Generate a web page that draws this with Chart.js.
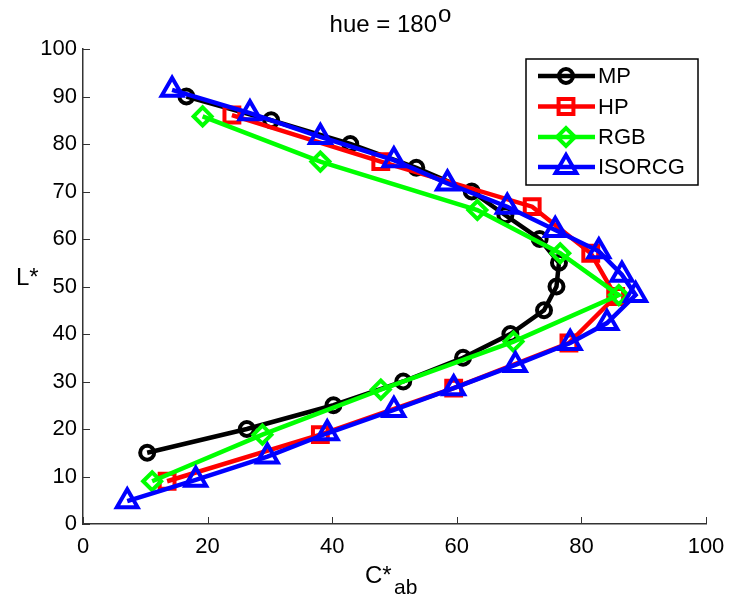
<!DOCTYPE html>
<html>
<head>
<meta charset="utf-8">
<script src="https://cdn.jsdelivr.net/npm/chart.js@4.4.1/dist/chart.umd.min.js"></script>
<style>
  html, body { margin: 0; padding: 0; background: #fff; }
</style>
</head>
<body>
<canvas id="c" width="730" height="596"></canvas>
<script>
// values (C*ab on x, L* on y)
const seriesNames = ['MP', 'HP', 'RGB', 'ISORCG'];

const mpC = [16.6, 30.2, 42.9, 53.5, 62.4, 67.8, 73.3, 76.4, 76.0, 74.0, 68.6, 61.0, 51.4, 40.2, 26.3, 10.3];
const mpL = [90, 85, 80, 75, 70, 65, 60, 55, 50, 45, 40, 35, 30, 25, 20, 15];

const hpC = [23.9, 47.8, 72.1, 81.5, 85.5, 78.0, 59.5, 38.1, 13.5];
const hpL = [86.1, 76.3, 66.8, 57.0, 47.9, 38.1, 28.6, 18.8, 9.0];

const rgbC = [19.2, 38.1, 63.3, 76.6, 86.0, 69.1, 47.8, 28.8, 11.1];
const rgbL = [85.8, 76.3, 66.1, 57.0, 48.2, 38.4, 28.3, 18.8, 9.0];

const isoC = [14.3, 26.8, 38.1, 49.9, 58.5, 68.1, 75.8, 82.8, 86.5, 88.7, 84.1, 78.2, 69.4, 59.5, 49.9, 39.2, 29.6, 18.1, 7.1];
const isoL = [91.4, 86.5, 81.5, 76.6, 71.7, 66.8, 61.9, 57.4, 52.5, 48.2, 42.3, 38.1, 33.5, 28.6, 24.0, 19.1, 14.2, 9.3, 4.8];

const xTicks = [0, 20, 40, 60, 80, 100];
const yTicks = [0, 10, 20, 30, 40, 50, 60, 70, 80, 90, 100];

const FONT = "'Liberation Sans', Arial, sans-serif";

function pts(xs, ys) {
  return xs.map((x, i) => ({ x: x, y: ys[i] }));
}

function series(label, xs, ys, color, style, radius, order) {
  return {
    label: label,
    data: pts(xs, ys),
    showLine: true,
    borderColor: color,
    backgroundColor: color,
    borderWidth: 4.5,
    pointStyle: style,
    pointRadius: radius,
    pointBorderWidth: 4,
    pointHoverBorderWidth: 4,
    pointBorderColor: color,
    pointBackgroundColor: 'rgba(0,0,0,0)',
    order: order
  };
}

// own marker drawing for the legend, same geometry as chart.js point styles
function marker(ctx, style, x, y, r) {
  ctx.beginPath();
  if (style === 'circle') {
    ctx.arc(x, y, r, 0, Math.PI * 2);
  } else if (style === 'rect') {
    const s = Math.SQRT1_2 * r;
    ctx.rect(x - s, y - s, 2 * s, 2 * s);
  } else if (style === 'rectRot') {
    ctx.moveTo(x - r, y); ctx.lineTo(x, y - r); ctx.lineTo(x + r, y); ctx.lineTo(x, y + r);
    ctx.closePath();
  } else if (style === 'triangle') {
    let a = 0;
    ctx.moveTo(x + Math.sin(a) * r, y - Math.cos(a) * r);
    a += Math.PI * 2 / 3;
    ctx.lineTo(x + Math.sin(a) * r, y - Math.cos(a) * r);
    a += Math.PI * 2 / 3;
    ctx.lineTo(x + Math.sin(a) * r, y - Math.cos(a) * r);
    ctx.closePath();
  }
  ctx.stroke();
}

const decor = {
  id: 'decor',
  afterDraw(chart) {
    const ctx = chart.ctx;
    const area = chart.chartArea;
    const xs = chart.scales.x, ys = chart.scales.y;
    ctx.save();

    // inward ticks
    ctx.strokeStyle = '#333';
    ctx.lineWidth = 1;
    xTicks.forEach(v => {
      const px = Math.round(xs.getPixelForValue(v)) + 0.5;
      ctx.beginPath(); ctx.moveTo(px, area.bottom); ctx.lineTo(px, area.bottom - 7); ctx.stroke();
    });
    yTicks.forEach(v => {
      const py = Math.round(ys.getPixelForValue(v)) + 0.5;
      ctx.beginPath(); ctx.moveTo(area.left, py); ctx.lineTo(area.left + 7, py); ctx.stroke();
    });

    // title with superscript
    ctx.fillStyle = '#000';
    ctx.textBaseline = 'alphabetic';
    ctx.textAlign = 'left';
    ctx.font = '24px ' + FONT;
    const main = 'hue = 180';
    const w = ctx.measureText(main).width;
    const s = ctx.measureText('o').width;
    const tx = 390 - (w + s) / 2;
    ctx.fillText(main, tx, 32);
    ctx.fillText('o', tx + w + 1, 22);

    // axis labels
    ctx.font = '24px ' + FONT;
    ctx.fillText('L*', 16, 285);
    ctx.fillText('C*', 365, 583);
    ctx.font = '21px ' + FONT;
    ctx.fillText('ab', 394, 594);

    // legend box
    const bx = 526, by = 59, bw = 172, bh = 126;
    ctx.fillStyle = '#fff';
    ctx.fillRect(bx, by, bw, bh);
    ctx.strokeStyle = '#000';
    ctx.lineWidth = 1.5;
    ctx.strokeRect(bx, by, bw, bh);
    const rowsY = [76, 106.5, 137, 167];
    chart.data.datasets.forEach((ds, i) => {
      const y = rowsY[i];
      ctx.strokeStyle = ds.borderColor;
      ctx.lineWidth = ds.borderWidth;
      ctx.beginPath(); ctx.moveTo(538, y); ctx.lineTo(595, y); ctx.stroke();
      ctx.lineWidth = ds.pointBorderWidth;
      marker(ctx, ds.pointStyle, 566, y, ds.pointRadius);
      ctx.fillStyle = '#000';
      ctx.font = '22px ' + FONT;
      ctx.textBaseline = 'middle';
      ctx.fillText(ds.label, 598, y + 1);
    });
    ctx.restore();
  }
};

new Chart(document.getElementById('c'), {
  type: 'scatter',
  data: {
    datasets: [
      series(seriesNames[0], mpC, mpL, '#000000', 'circle', 7, 3),
      series(seriesNames[1], hpC, hpL, '#ff0000', 'rect', 10.5, 2),
      series(seriesNames[2], rgbC, rgbL, '#00ff00', 'rectRot', 9, 1),
      series(seriesNames[3], isoC, isoL, '#0000ff', 'triangle', 12, 0)
    ]
  },
  options: {
    responsive: false,
    animation: false,
    events: [],
    elements: { point: { borderWidth: 4 } },
    layout: { padding: { top: 49, right: 24, left: 0, bottom: 0 } },
    plugins: {
      legend: { display: false },
      tooltip: { enabled: false },
      title: { display: false }
    },
    scales: {
      x: {
        type: 'linear',
        min: 0, max: 100,
        afterFit: s => { s.height = 72; s.paddingLeft = 0; s.paddingRight = 0; },
        afterBuildTicks: s => { s.ticks = xTicks.map(v => ({ value: v })); },
        grid: { display: true, drawOnChartArea: false, drawTicks: false },
        border: { display: true, color: '#333', width: 1.5 },
        ticks: { padding: 10, color: '#000', font: { family: FONT, size: 22 }, maxRotation: 0 }
      },
      y: {
        type: 'linear',
        min: 0, max: 100,
        afterFit: s => { s.width = 83; s.paddingTop = 0; s.paddingBottom = 0; },
        afterBuildTicks: s => { s.ticks = yTicks.map(v => ({ value: v })); },
        grid: { display: true, drawOnChartArea: false, drawTicks: false },
        border: { display: true, color: '#333', width: 1.5 },
        ticks: { padding: 6, color: '#000', font: { family: FONT, size: 22 } }
      }
    }
  },
  plugins: [decor]
});
</script>
</body>
</html>
